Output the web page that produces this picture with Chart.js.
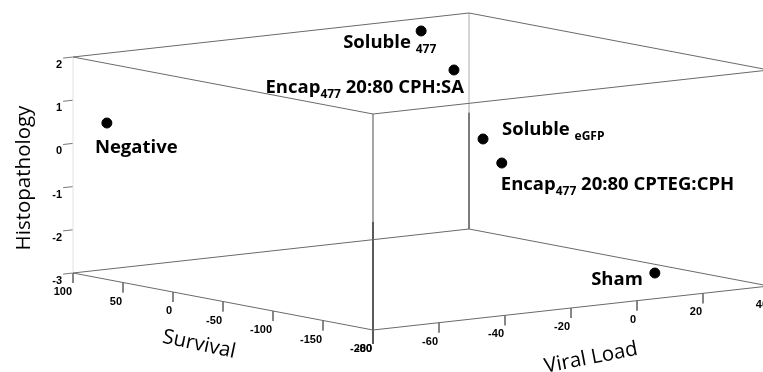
<!DOCTYPE html>
<html><head><meta charset="utf-8">
<script src="https://cdn.jsdelivr.net/npm/chart.js@4.4.1/dist/chart.umd.min.js"></script>
<style>html,body{margin:0;padding:0;background:#fff}#wrap{width:763px;height:372px;position:relative}</style>
</head><body><div id="wrap"><canvas id="c"></canvas></div>
<script>
// ---- data ----
const groupLabels = ["Soluble {477}", "Encap{477} 20:80 CPH:SA", "Negative", "Soluble {eGFP}", "Encap{477} 20:80 CPTEG:CPH", "Sham"];
const survival = [72.3, 16.7, 97.8, -108.4, -109, -186.5];
const viralLoad = [17.1, 10.2, -70.4, -18.9, -13.4, 9.5];
const histopathology = [1.9, 1.3, 0.4, 0.5, -0.1, -2.5];
const survivalTicks = [100, 50, 0, -50, -100, -150, -200];
const viralTicks = [-80, -60, -40, -20, 0, 20, 40];
const histoTicks = [-3, -2, -1, 0, 1, 2];
const survivalRange = [-200, 100];
const viralRange = [-80, 40];
const histoRange = [-3, 2];
const axisTitles = { z: "Histopathology", s: "Survival", v: "Viral Load" };

// ---- view (oblique projection of the 3D box onto the page) ----
const VIEW = { ox: 73, oy: 273, ax: 300, ay: 57, bx: 396, by: -44, cz: -216 };
function project(s, v, h) {
  const u = (survivalRange[1] - s) / (survivalRange[1] - survivalRange[0]);
  const w = (v - viralRange[0]) / (viralRange[1] - viralRange[0]);
  const t = (h - histoRange[0]) / (histoRange[1] - histoRange[0]);
  return { x: VIEW.ox + VIEW.ax * u + VIEW.bx * w, y: VIEW.oy + VIEW.ay * u + VIEW.by * w + VIEW.cz * t };
}
const S0 = survivalRange[1], S1 = survivalRange[0];
const V0 = viralRange[0], V1 = viralRange[1];
const H0 = histoRange[0], H1 = histoRange[1];

const datasets = [];
// points (top-most)
datasets.push({
  label: "groups",
  data: survival.map((s, i) => project(s, viralLoad[i], histopathology[i])),
  backgroundColor: "#000", borderColor: "#000", pointRadius: 5, pointHoverRadius: 5, showLine: false, order: 0
});
function seg(a, b, color, width) {
  datasets.push({ data: [a, b], showLine: true, borderColor: color, borderWidth: width, pointRadius: 0, pointHoverRadius: 0, fill: false, order: 5 });
}
function off(p, dx, dy) { return { x: p.x + dx, y: p.y + dy }; }
const EDGE = "#6a6a6a";
// bottom face
seg(project(S0, V0, H0), project(S1, V0, H0), EDGE, 1);
seg(project(S1, V0, H0), project(S1, V1, H0), EDGE, 1);
seg(project(S1, V1, H0), project(S0, V1, H0), EDGE, 1);
seg(project(S0, V1, H0), project(S0, V0, H0), EDGE, 1);
// top face
seg(project(S0, V0, H1), project(S1, V0, H1), EDGE, 1);
seg(project(S1, V0, H1), project(S1, V1, H1), EDGE, 1);
seg(project(S1, V1, H1), project(S0, V1, H1), EDGE, 1);
seg(project(S0, V1, H1), project(S0, V0, H1), EDGE, 1);
// verticals
seg(project(S0, V0, H0), project(S0, V0, H1), "#e2e2e2", 1);
seg(project(S1, V0, H1), project(S1, V0, -0.5), "#9a9a9a", 1);
seg(project(S1, V0, -0.5), off(project(S1, V0, H0), 0, 14), "#5a5a5a", 2);
seg(project(S0, V1, H1), project(S0, V1, -0.3), "#cfcfcf", 1);
seg(project(S0, V1, -0.3), project(S0, V1, H0), "#6a6a6a", 1);
// ticks
survivalTicks.forEach(s => { const p = project(s, V0, H0); seg(p, off(p, 0, 10), "#777", 1); });
viralTicks.forEach(v => { const p = project(S1, v, H0); seg(p, off(p, 0, 10), "#777", 1); });
histoTicks.forEach(h => { const p = project(S0, V0, h); seg(p, off(p, -9.9, 1.1), "#777", 1); });

// label placement (anchor, dx, dy relative to the point)
const labelPlacement = [
  { align: "left", dx: -78, dy: 17 },
  { align: "right", dx: 10, dy: 23 },
  { align: "left", dx: -12, dy: 30 },
  { align: "left", dx: 19, dy: -4 },
  { align: "left", dx: -1, dy: 27 },
  { align: "right", dx: -12, dy: 12 }
];
const MAIN_FONT = "bold 18.5px 'Open Sans'";
const SUB_FONT = "bold 12px 'Open Sans'";
function parseLabel(str) {
  const parts = []; const re = /\{([^}]*)\}|([^{]+)/g; let m;
  while ((m = re.exec(str))) { if (m[1] !== undefined) parts.push({ t: m[1], sub: true }); else parts.push({ t: m[2], sub: false }); }
  return parts;
}
const overlay = {
  id: "overlay",
  afterDatasetsDraw(chart) {
    const ctx = chart.ctx, xs = chart.scales.x, ys = chart.scales.y;
    const px = p => ({ x: xs.getPixelForValue(p.x), y: ys.getPixelForValue(p.y) });
    ctx.save();
    // group labels
    ctx.fillStyle = "#000"; ctx.textBaseline = "alphabetic"; ctx.textAlign = "left";
    const meta = chart.getDatasetMeta(0);
    groupLabels.forEach((lab, i) => {
      const el = meta.data[i]; const pl = labelPlacement[i];
      const parts = parseLabel(lab);
      let total = 0;
      parts.forEach(p => { ctx.font = p.sub ? SUB_FONT : MAIN_FONT; p.w = ctx.measureText(p.t).width; total += p.w; });
      let x = pl.align === "left" ? el.x + pl.dx : el.x + pl.dx - total;
      const y = el.y + pl.dy;
      parts.forEach(p => { ctx.font = p.sub ? SUB_FONT : MAIN_FONT; ctx.fillText(p.t, x, p.sub ? y + 5 : y); x += p.w; });
    });
    // tick labels
    ctx.font = "bold 11px 'Liberation Sans', Arial, sans-serif"; ctx.textBaseline = "middle"; ctx.textAlign = "right"; ctx.fillStyle = "#000";
    survivalTicks.forEach(s => { const p = px(project(s, V0, H0)); ctx.fillText(String(s), p.x - 1, p.y + 19); });
    viralTicks.forEach(v => { const p = px(project(S1, v, H0)); ctx.fillText(String(v), p.x - 1, p.y + 19); });
    histoTicks.forEach(h => { const p = px(project(S0, V0, h)); ctx.fillText(String(h), p.x - 11, p.y + 8); });
    // axis titles
    ctx.fillStyle = "#000"; ctx.font = "20.5px 'Open Sans'"; ctx.textAlign = "center"; ctx.textBaseline = "middle";
    const zc = px(project(S0, V0, (H0 + H1) / 2));
    ctx.save(); ctx.translate(zc.x - 49, zc.y + 13); ctx.rotate(-Math.PI / 2); ctx.fillText(axisTitles.z, 0, 0); ctx.restore();
    const sc = px(project((S0 + S1) / 2, V0, H0));
    ctx.save(); ctx.translate(sc.x - 24, sc.y + 43); ctx.rotate(12 * Math.PI / 180); ctx.fillText(axisTitles.s, 0, 0); ctx.restore();
    const vc = px(project(S1, (V0 + V1) / 2, H0));
    ctx.save(); ctx.translate(vc.x + 20, vc.y + 50); ctx.rotate(-11 * Math.PI / 180); ctx.fillText(axisTitles.v, 0, 0); ctx.restore();
    ctx.restore();
  }
};
new Chart(document.getElementById("c"), {
  type: "scatter",
  data: { datasets },
  options: {
    animation: false, responsive: true, maintainAspectRatio: false, devicePixelRatio: 1,
    layout: { padding: 0, autoPadding: false },
    plugins: { legend: { display: false }, tooltip: { enabled: false } },
    events: [],
    scales: {
      x: { type: "linear", min: 0, max: 763, display: false },
      y: { type: "linear", min: 0, max: 372, reverse: true, display: false }
    }
  },
  plugins: [overlay]
});
</script></body></html>
